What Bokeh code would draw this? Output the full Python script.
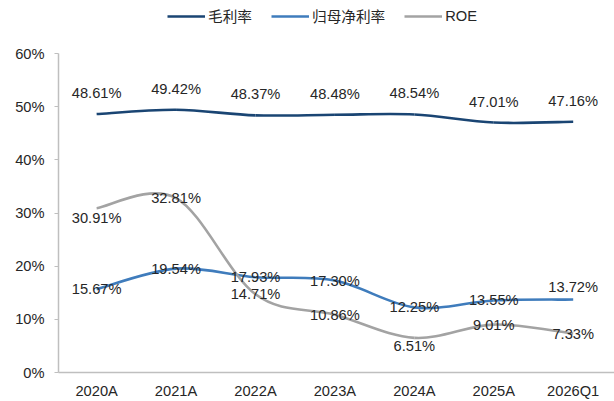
from bokeh.plotting import figure
from bokeh.models import (Range1d, FixedTicker, PrintfTickFormatter,
                          Legend, LegendItem, ColumnDataSource)
from bokeh.core.properties import value
from bokeh.embed import file_html
from bokeh.resources import INLINE

categories = ["2020A", "2021A", "2022A", "2023A", "2024A", "2025A", "2026Q1"]
gross_margin = [48.61, 49.42, 48.37, 48.48, 48.54, 47.01, 47.16]
net_margin = [15.67, 19.54, 17.93, 17.30, 12.25, 13.55, 13.72]
roe = [30.91, 32.81, 14.71, 10.86, 6.51, 9.01, 7.33]
series_names = ["毛利率", "归母净利率", "ROE"]

# label offsets (pixels, style only)
gm_yoff = [-21] * 7
nm_yoff = [0, 0, 0, 0, 0, 0, -13]
roe_yoff = [10, 0, 0, 0, 8, 0, 0]

colors = ["#1A4573", "#3F7CBC", "#A3A3A3"]
FONT = "'Liberation Sans', Arial, 'Noto Sans CJK SC'"
FS = "14.67px"

xs = list(range(len(categories)))


def smooth_segments(x, y):
    n = len(x)
    d = dict(x0=[], y0=[], x1=[], y1=[], cx0=[], cy0=[], cx1=[], cy1=[])
    for i in range(n - 1):
        a = i - 1 if i > 0 else i
        b = i + 2 if i + 2 < n else i + 1
        d["x0"].append(x[i]); d["y0"].append(y[i])
        d["x1"].append(x[i + 1]); d["y1"].append(y[i + 1])
        d["cx0"].append(x[i] + (x[i + 1] - x[a]) / 6)
        d["cy0"].append(y[i] + (y[i + 1] - y[a]) / 6)
        d["cx1"].append(x[i + 1] - (x[b] - x[i]) / 6)
        d["cy1"].append(y[i + 1] - (y[b] - y[i]) / 6)
    return ColumnDataSource(d)


p = figure(width=614, height=401, output_backend="svg", toolbar_location=None,
           x_range=Range1d(-0.48, 6.52), y_range=Range1d(0, 69.97),
           min_border_left=58, min_border_right=0, min_border_top=0, min_border_bottom=29)
p.outline_line_color = None
p.background_fill_color = "white"
p.grid.visible = False

renderers = []
for ys, col in zip([gross_margin, net_margin, roe], colors):
    r = p.bezier(x0="x0", y0="y0", x1="x1", y1="y1", cx0="cx0", cy0="cy0",
                 cx1="cx1", cy1="cy1", source=smooth_segments(xs, ys),
                 line_color=col, line_width=2.6)
    renderers.append(r)

for ys, offs in zip([gross_margin, net_margin, roe], [gm_yoff, nm_yoff, roe_yoff]):
    src = ColumnDataSource(dict(x=xs, y=ys, t=[f"{v:.2f}%" for v in ys], off=offs))
    p.text(x="x", y="y", text="t", y_offset="off", source=src,
           text_align="center", text_baseline="middle",
           text_font=value(FONT), text_font_size=FS, text_color="#262626")

# axes
p.xaxis.ticker = FixedTicker(ticks=xs)
p.xaxis.major_label_overrides = {i: c for i, c in enumerate(categories)}
p.xaxis.major_tick_line_color = None
p.xaxis.major_tick_out = 0
p.xaxis.major_tick_in = 0
p.xaxis.minor_tick_line_color = None
p.xaxis.axis_line_color = "#BFBFBF"
p.xaxis.axis_line_width = 1.5
p.xaxis.major_label_standoff = 10
p.xaxis.major_label_text_font = FONT
p.xaxis.major_label_text_font_size = FS
p.xaxis.major_label_text_color = "#262626"

p.yaxis.ticker = FixedTicker(ticks=[0, 10, 20, 30, 40, 50, 60])
p.yaxis.bounds = (0, 60)
p.yaxis.formatter = PrintfTickFormatter(format="%d%%")
p.yaxis.minor_tick_line_color = None
p.yaxis.major_tick_in = 0
p.yaxis.major_tick_out = 4
p.yaxis.major_tick_line_color = "#BFBFBF"
p.yaxis.axis_line_color = "#BFBFBF"
p.yaxis.axis_line_width = 1.5
p.yaxis.major_label_standoff = 10
p.yaxis.major_label_text_font = FONT
p.yaxis.major_label_text_font_size = FS
p.yaxis.major_label_text_color = "#262626"

legend = Legend(items=[LegendItem(label=n, renderers=[r]) for n, r in zip(series_names, renderers)],
                orientation="horizontal", location=(109, 346))
legend.border_line_color = None
legend.background_fill_alpha = 0
legend.glyph_width = 38
legend.glyph_height = 14
legend.label_height = 16
legend.label_standoff = 3
legend.spacing = 19
legend.padding = 0
legend.margin = 0
legend.label_text_font = FONT
legend.label_text_font_size = FS
legend.label_text_color = "#262626"
p.add_layout(legend, "center")

open("out.html", "w").write(file_html(p, INLINE))
